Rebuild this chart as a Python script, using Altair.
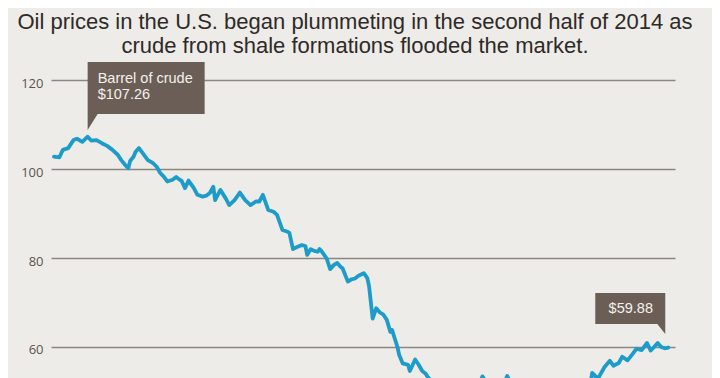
import altair as alt
import pandas as pd

# ---- text ----
title_lines = [
    "Oil prices in the U.S. began plummeting in the second half of 2014 as",
    "crude from shale formations flooded the market.",
]
y_ticks = [60, 80, 100, 120]
peak_text = ["Barrel of crude", "$107.26"]
last_text = "$59.88"

# ---- data: day offset from 2014-06-01 and crude price (USD/barrel) ----
days = [
    0, 3, 5, 8, 11, 13, 16, 19, 21, 24,
    27, 30, 33, 36, 38, 40, 42, 43, 45, 46,
    48, 50, 53, 56, 58, 60, 62, 64, 67, 69,
    71, 72, 74, 76, 79, 81, 84, 86, 88, 90,
    91, 92, 94, 97, 99, 102, 105, 108, 111, 114,
    116, 118, 121, 124, 126, 129, 132, 133, 135, 137,
    140, 142, 143, 145, 147, 149, 150, 151, 154, 156,
    158, 160, 162, 163, 166, 168, 170, 172, 175, 177,
    178, 180, 182, 184, 186, 188, 190, 191, 194, 195,
    197, 200, 201, 204, 206, 208, 210, 211, 214, 217,
    220, 223, 225, 228, 231, 234, 237, 239, 242, 245,
    248, 251, 254, 256, 259, 262, 264, 267, 270, 273,
    276, 279, 281, 284, 287, 290, 293, 295, 298, 301,
    303, 304, 307, 308, 311, 314, 316, 319, 321, 324,
    327, 329, 332, 335, 337, 339, 341, 343, 345, 347,
]
prices = [
    102.8, 102.6, 104.3, 104.7, 106.5, 106.8, 106.1, 107.26, 106.4, 106.5,
    105.8, 105.2, 104.3, 103.2, 102.0, 101.0, 100.2, 101.8, 102.8, 103.8,
    104.7, 103.6, 102.0, 101.3, 100.5, 99.1, 98.3, 97.2, 97.6, 98.2,
    97.6, 97.4, 95.7, 97.4, 95.7, 94.2, 93.8, 94.0, 94.6, 96.0,
    93.0, 93.8, 95.3, 93.4, 91.9, 93.0, 94.7, 93.0, 91.9, 92.7,
    92.7, 94.2, 90.8, 90.4, 89.7, 86.3, 85.9, 85.6, 82.0, 82.4,
    82.9, 82.7, 80.7, 82.0, 81.6, 81.4, 82.0, 81.6, 79.9, 77.5,
    78.4, 78.9, 78.0, 77.7, 74.7, 75.2, 75.4, 76.0, 76.6, 75.5,
    73.6, 66.4, 68.7, 67.8, 67.3, 66.1, 63.4, 63.8, 60.0, 58.2,
    56.3, 56.0, 54.6, 57.2, 56.0, 54.6, 54.0, 53.3, 52.0, 50.5,
    49.0, 48.0, 47.0, 48.5, 46.0, 45.5, 47.5, 50.0, 53.4, 51.5,
    50.5, 52.0, 51.5, 53.5, 51.0, 50.0, 49.0, 49.8, 48.0, 47.5,
    49.5, 48.0, 47.0, 46.0, 44.5, 44.0, 45.0, 47.5, 48.5, 50.0,
    51.5, 54.2, 53.0, 53.4, 55.5, 56.9, 55.8, 56.4, 57.8, 57.0,
    58.5, 59.6, 59.3, 60.9, 59.2, 60.0, 60.9, 60.0, 59.7, 59.88,
]
assert len(days) == len(prices)

start = pd.Timestamp("2014-06-01")
df = pd.DataFrame({"date": start + pd.to_timedelta(days, unit="D"), "price": prices})
peak_df = df[df["price"] == max(prices)]
last_df = df.tail(1)

# ---- style ----
BG = "#eeece9"
LINE = "#1d9cc9"
BOX = "#6a5e56"
BOX_TEXT = "#f5f1ec"
FONT = "Liberation Sans"

# callout shapes (custom symbol paths, anchored at the data point)
PEAK_SHAPE = "M0,-0.067 L0,-0.747 L1.17,-0.747 L1.17,-0.227 L0.1,-0.227 Z"
LAST_SHAPE = "M-0.03,-0.135 L-0.03,-0.545 L-0.73,-0.545 L-0.73,-0.235 L-0.11,-0.235 Z"

x_scale = alt.Scale(domain=[
    alt.DateTime(year=2014, month=5, date=30, hours=7, minutes=12),
    alt.DateTime(year=2015, month=5, date=17, hours=19, minutes=12),
])
y_scale = alt.Scale(domain=[39.1, 137.98], nice=False, zero=False)
y_axis = alt.Axis(
    values=y_ticks, grid=True, gridColor="#8d8680", gridWidth=1.4,
    domain=False, ticks=False, labelPadding=8, labelFont="Open Sans",
    labelFontSize=13, labelColor="#5c534d", labelOffset=3, title=None,
)
x_enc = alt.X("date:T", scale=x_scale, axis=None)
y_enc = alt.Y("price:Q", scale=y_scale, axis=y_axis)

line = alt.Chart(df).mark_line(
    color=LINE, strokeWidth=3.8, strokeJoin="round", strokeCap="round"
).encode(x=x_enc, y=y_enc)

peak_box = alt.Chart(peak_df).mark_point(
    shape=PEAK_SHAPE, size=40000, filled=True, color=BOX, opacity=1, strokeWidth=0
).encode(x=x_enc, y=y_enc)
peak_t1 = alt.Chart(peak_df).mark_text(
    align="left", baseline="alphabetic", dx=10, dy=-53.7,
    font=FONT, fontSize=14.5, color=BOX_TEXT
).encode(x=x_enc, y=y_enc, text=alt.value(peak_text[0]))
peak_t2 = alt.Chart(peak_df).mark_text(
    align="left", baseline="alphabetic", dx=10, dy=-37.7,
    font=FONT, fontSize=14.5, color=BOX_TEXT
).encode(x=x_enc, y=y_enc, text=alt.value(peak_text[1]))

last_box = alt.Chart(last_df).mark_point(
    shape=LAST_SHAPE, size=40000, filled=True, color=BOX, opacity=1, strokeWidth=0
).encode(x=x_enc, y=y_enc)
last_t = alt.Chart(last_df).mark_text(
    align="center", baseline="alphabetic", dx=-37.5, dy=-34.8,
    font=FONT, fontSize=14.5, color=BOX_TEXT
).encode(x=x_enc, y=y_enc, text=alt.value(last_text))

title1 = alt.Chart(pd.DataFrame({"t": [title_lines[0]]})).mark_text(
    align="center", baseline="alphabetic", font=FONT, fontSize=22, color="#2e2a27"
).encode(text="t:N", x=alt.value(304), y=alt.value(29))
title2 = alt.Chart(pd.DataFrame({"t": [title_lines[1]]})).mark_text(
    align="center", baseline="alphabetic", font=FONT, fontSize=22, color="#2e2a27"
).encode(text="t:N", x=alt.value(304), y=alt.value(53))

chart = alt.layer(
    line, peak_box, peak_t1, peak_t2, last_box, last_t, title1, title2
).properties(
    width=624, height=440,
    padding={"left": 43, "top": -8, "right": 37, "bottom": 0},
    autosize=alt.AutoSizeParams(type="none"),
    background=BG,
).configure_view(strokeWidth=0)

chart.save("out.html", embed_options={"renderer": "svg", "actions": False})
